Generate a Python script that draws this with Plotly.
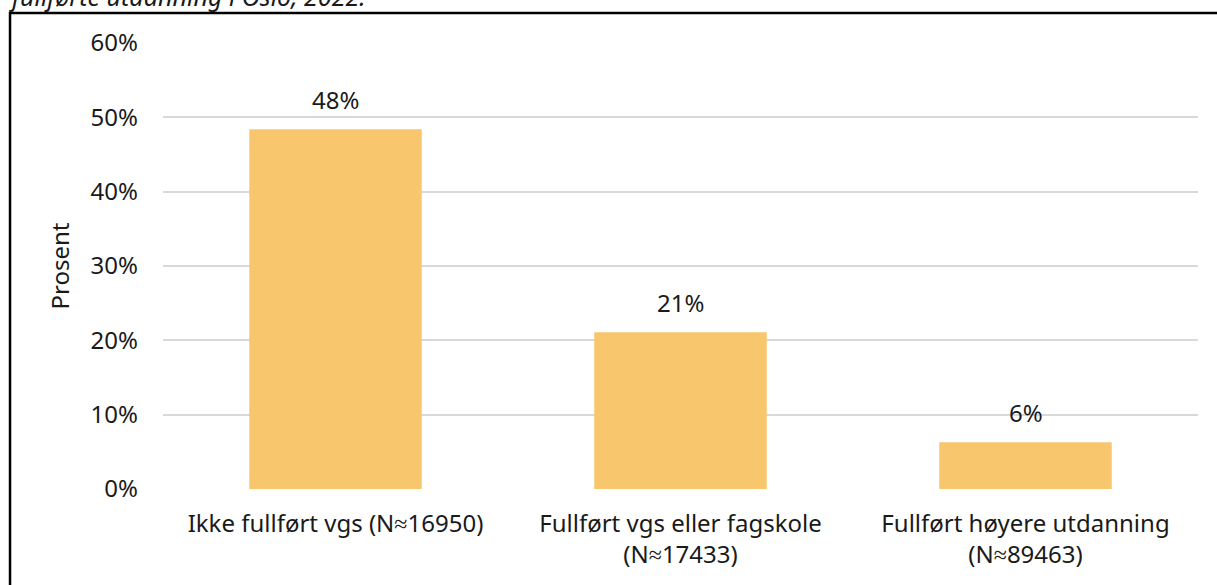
import plotly.graph_objects as go

categories = ["Ikke fullført vgs (N≈16950)", "Fullført vgs eller fagskole<br>(N≈17433)", "Fullført høyere utdanning<br>(N≈89463)"]
values = [48.4, 21.1, 6.3]
labels = ["48%", "21%", "6%"]
tick_vals = [0, 10, 20, 30, 40, 50, 60]
tick_text = ["0%", "10%", "20%", "30%", "40%", "50%", "60%"]
title_text = "fullførte utdanning i Oslo, 2022."

FONT = "Noto Sans"
FS = 24
fig = go.Figure()
fig.add_trace(go.Bar(x=categories, y=values, marker_color="#F8C66D", marker_line_width=0,
                     hoverinfo="skip"))
for c, v, t in zip(categories, values, labels):
    fig.add_annotation(x=c, y=v, text=t, showarrow=False, yshift=30,
                       font=dict(family=FONT, size=FS, color="#1a1a1a"))

fig.add_annotation(xref="paper", yref="paper", x=-0.151, y=1.063, xanchor="left", yanchor="bottom",
                   text="<i>" + title_text + "</i>", showarrow=False,
                   font=dict(family=FONT, size=25, color="#1a1a1a"))
fig.add_shape(type="rect", xref="paper", yref="paper", x0=-0.1478, x1=1.03, y0=-0.25, y1=1.0673,
              line=dict(color="black", width=2.5), fillcolor="rgba(0,0,0,0)", layer="above")

fig.update_layout(
    width=1217, height=585,
    margin=dict(l=163, r=19, t=43, b=96),
    paper_bgcolor="white", plot_bgcolor="white",
    bargap=0.5, showlegend=False,
    font=dict(family=FONT, size=FS, color="#1a1a1a"),
    xaxis=dict(showgrid=False, showline=False, ticks="", tickfont=dict(size=FS),
               ticklabelstandoff=18),
    yaxis=dict(range=[0, 60], tickvals=tick_vals, ticktext=tick_text, showgrid=True,
               gridcolor="#d9d9d9", gridwidth=2, zeroline=False, showline=False,
               ticklabelstandoff=24, tickfont=dict(size=FS),
               title=dict(text="Prosent", font=dict(size=FS), standoff=14)),
)
fig.write_html("out.html", config={"displayModeBar": False},
               post_script="document.body.style.margin='0';")
